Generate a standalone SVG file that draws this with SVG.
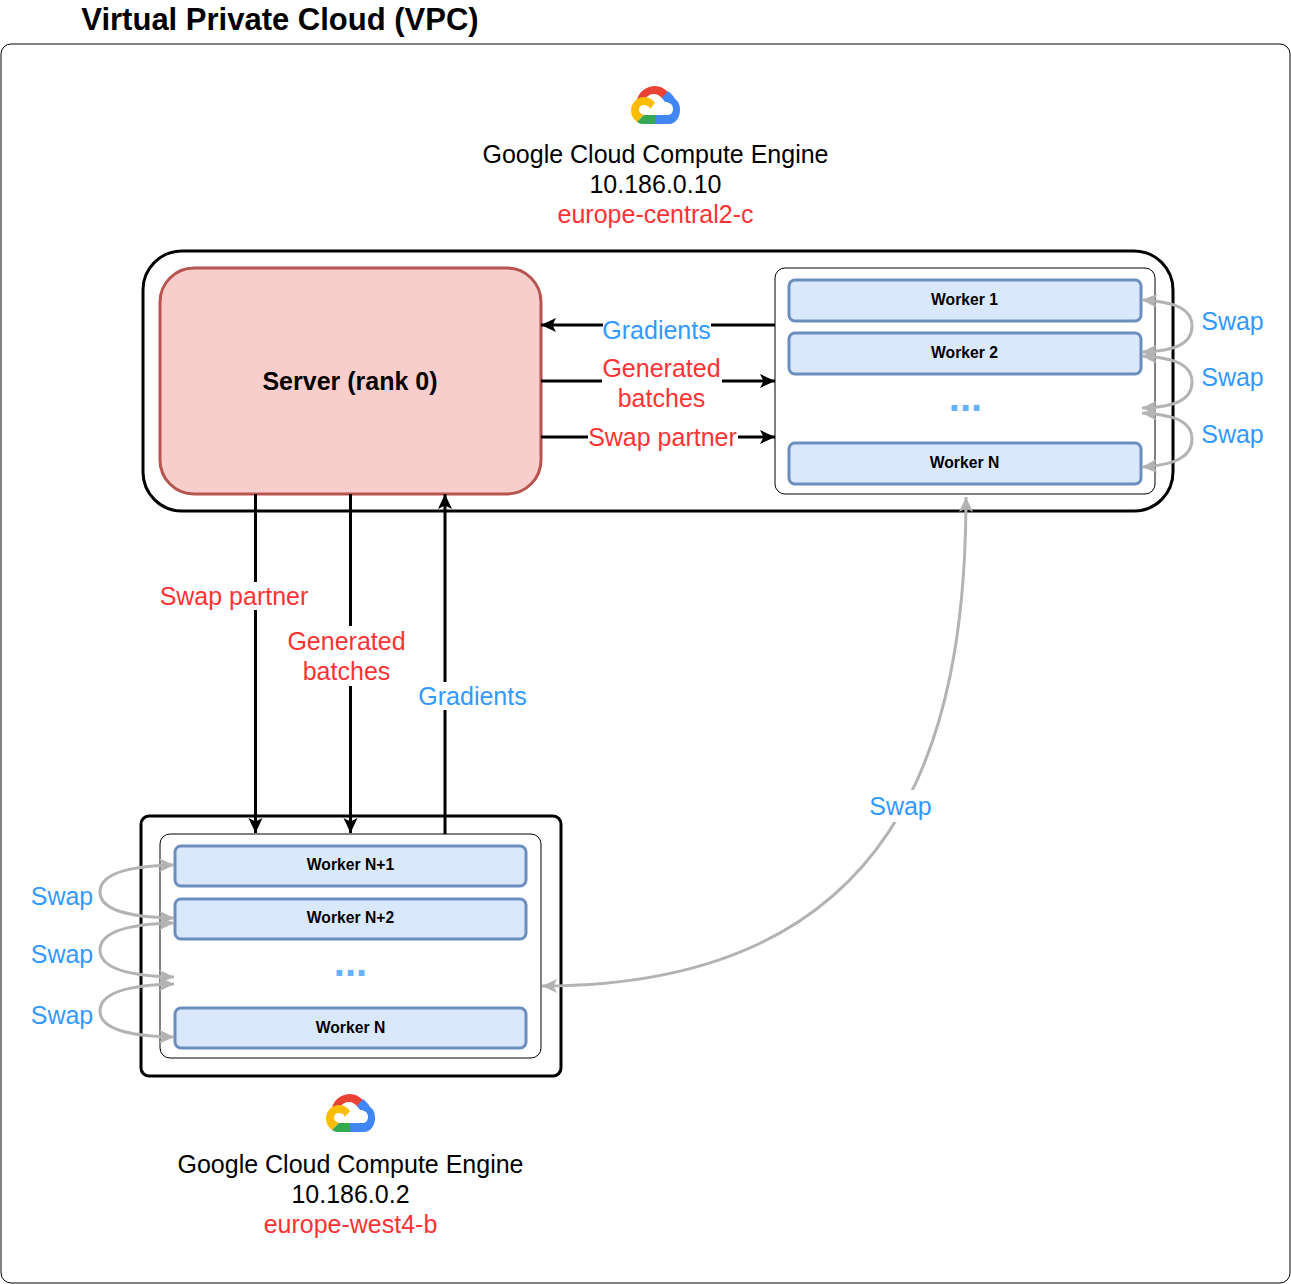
<svg xmlns="http://www.w3.org/2000/svg" width="1291" height="1284" viewBox="0 0 1291 1284">
<style>
text{font-family:"Liberation Sans",Arial,sans-serif;text-anchor:middle}
.t{font-size:25px;fill:#000}
.r{font-size:25px;fill:#ff3333}
.b{font-size:25px;fill:#3399ff}
.w{font-size:15.700px;font-weight:bold;fill:#000}
.worker{fill:#dae8fc;stroke:#6c8ebf;stroke-width:3}
.panel{fill:#fff;stroke:#000;stroke-width:1}
.host{fill:#fff;stroke:#000;stroke-width:3}
.c{fill:none;stroke:#000;stroke-width:3}
.g{fill:none;stroke:#b3b3b3;stroke-width:3}
.lb{fill:#fff;stroke:none}
.dots{font-size:40px;font-weight:bold;fill:#66b2ff}
</style>
<defs>
<marker id="ak" markerUnits="userSpaceOnUse" markerWidth="17" markerHeight="16" refX="15" refY="8" orient="auto"><path d="M0 1 L15 8 L0 15 L3.500 8Z" fill="#000"/></marker>
<marker id="ags" markerUnits="userSpaceOnUse" markerWidth="17" markerHeight="16" refX="15" refY="8" orient="auto-start-reverse"><path d="M0 1 L15 8 L0 15 L3.500 8Z" fill="#b3b3b3"/></marker>
<g id="gcp-logo">
<path d="M637 99C640 91 647 86 655 86C660 86 664 88 668 92L663 99C660 96 658 94 654 94C650 94 647 96 645 99Z" fill="#ea4335"/>
<path d="M668 91C672 94 674 97 675 99C678 101 680 104 680 110C680 118 675 124 669 124L655 124L655 115L668 115C671 115 673 112 673 109C673 104 669 102 665 102C664 101 663 99 662 98Z" fill="#4285f4"/>
<path d="M644 97C637 97 631 103 631 110.500C631 115 633 119 637 122L644 115C641 114 639 112 639 110C639 107 641 105 644 105C647 105 649 106 650 109L655 103C653 100 649 97 644 97Z" fill="#fbbc05"/>
<path d="M637 122C640 124 642 124 644 124L655 124L655 115L644 115Z" fill="#34a853"/>
</g>
</defs>
<rect width="1291" height="1284" fill="#fff"/>
<g id="vpc">
<text x="280" y="29.500" style="font-size:31px;font-weight:bold">Virtual Private Cloud (VPC)</text>
<rect x="1" y="44" width="1289" height="1239" rx="10" fill="#fff" stroke="#000"/>
</g>
<g id="host-top">
<rect class="host" x="143" y="251" width="1030" height="260" rx="39"/>
<use href="#gcp-logo"/>
<text class="t" x="655.500" y="162.500">Google Cloud Compute Engine</text>
<text class="t" x="655.500" y="192.500">10.186.0.10</text>
<text class="r" x="655.500" y="222.500">europe-central2-c</text>
</g>
<g id="host-bottom">
<rect class="host" x="141" y="816" width="420" height="260" rx="8"/>
<use href="#gcp-logo" x="-305" y="1008"/>
<text class="t" x="350.500" y="1172.500">Google Cloud Compute Engine</text>
<text class="t" x="350.500" y="1202.500">10.186.0.2</text>
<text class="r" x="350.500" y="1232.500">europe-west4-b</text>
</g>
<g id="server">
<rect x="160" y="268" width="381" height="226" rx="34" fill="#f8cecc" stroke="#b85450" stroke-width="3"/>
<text x="350" y="390" style="font-size:25px;font-weight:bold">Server (rank 0)</text>
</g>
<g id="panel-top">
<rect class="panel" x="775" y="268" width="380" height="226" rx="10"/>
<text class="dots" x="965.500" y="411">...</text>
</g>
<g id="worker-1"><rect class="worker" x="789" y="280" width="352" height="41" rx="6"/><text class="w" x="964.500" y="304.500">Worker 1</text></g>
<g id="worker-2"><rect class="worker" x="789" y="333" width="352" height="41" rx="6"/><text class="w" x="964.500" y="357.500">Worker 2</text></g>
<g id="worker-n-top"><rect class="worker" x="789" y="443" width="352" height="41" rx="6"/><text class="w" x="964.500" y="467.500">Worker N</text></g>
<g id="panel-bottom">
<rect class="panel" x="160" y="834" width="381" height="224" rx="10"/>
<text class="dots" x="350.500" y="976">...</text>
</g>
<g id="worker-n1"><rect class="worker" x="175" y="846" width="351" height="40" rx="6"/><text class="w" x="350.500" y="869.500">Worker N+1</text></g>
<g id="worker-n2"><rect class="worker" x="175" y="899" width="351" height="40" rx="6"/><text class="w" x="350.500" y="922.500">Worker N+2</text></g>
<g id="worker-n-bottom"><rect class="worker" x="175" y="1008" width="351" height="40" rx="6"/><text class="w" x="350.500" y="1032.500">Worker N</text></g>
<g id="connectors">
<path class="c" d="M775 325H541" marker-end="url(#ak)"/>
<path class="c" d="M541 381H775" marker-end="url(#ak)"/>
<path class="c" d="M541 437H775" marker-end="url(#ak)"/>
<path class="c" d="M255.500 494V833" marker-end="url(#ak)"/>
<path class="c" d="M350.500 494V833" marker-end="url(#ak)"/>
<path class="c" d="M445 834V494" marker-end="url(#ak)"/>
<path class="g" d="M1142 300C1178 302 1192 310 1192 326C1192 344 1175 351 1142 352" marker-start="url(#ags)" marker-end="url(#ags)"/>
<path class="g" d="M1142 356C1178 358 1192 366 1192 382C1192 400 1175 407 1142 408" marker-start="url(#ags)" marker-end="url(#ags)"/>
<path class="g" d="M1142 413C1178 415 1192 423 1192 439C1192 457 1175 465 1142 467" marker-start="url(#ags)" marker-end="url(#ags)"/>
<path class="g" d="M174 865C125 866 100 875 100 892C100 909 125 917 174 918" marker-start="url(#ags)" marker-end="url(#ags)"/>
<path class="g" d="M174 923C125 924 100 933 100 950C100 967 125 976 174 977" marker-start="url(#ags)" marker-end="url(#ags)"/>
<path class="g" d="M174 984C125 985 100 994 100 1011C100 1028 125 1036 174 1037" marker-start="url(#ags)" marker-end="url(#ags)"/>
<path class="g" d="M966 497C966 740 900 986 542 986" marker-start="url(#ags)" marker-end="url(#ags)"/>
</g>
<g id="connector-labels">
<rect class="lb" x="603" y="314" width="108" height="30"/>
<rect class="lb" x="602" y="352" width="120" height="60"/>
<rect class="lb" x="588" y="424" width="150" height="28"/>
<rect class="lb" x="160" y="582" width="149" height="28"/>
<rect class="lb" x="287" y="626" width="120" height="60"/>
<rect class="lb" x="418" y="682" width="109" height="28"/>
<rect class="lb" x="869" y="790" width="63" height="32"/>
<text class="b" x="656.500" y="338.500">Gradients</text>
<text class="r" x="661.500" y="376.500">Generated</text>
<text class="r" x="661.500" y="406.500">batches</text>
<text class="r" x="662.500" y="445.500">Swap partner</text>
<text class="r" x="234" y="604.500">Swap partner</text>
<text class="r" x="346.500" y="649.500">Generated</text>
<text class="r" x="346.500" y="679.500">batches</text>
<text class="b" x="472.500" y="704.500">Gradients</text>
<text class="b" x="900.500" y="814.500">Swap</text>
<text class="b" x="1232.500" y="329.500">Swap</text>
<text class="b" x="1232.500" y="385.500">Swap</text>
<text class="b" x="1232.500" y="442.500">Swap</text>
<text class="b" x="62" y="904.500">Swap</text>
<text class="b" x="62" y="962.500">Swap</text>
<text class="b" x="62" y="1023.500">Swap</text>
</g>
</svg>
